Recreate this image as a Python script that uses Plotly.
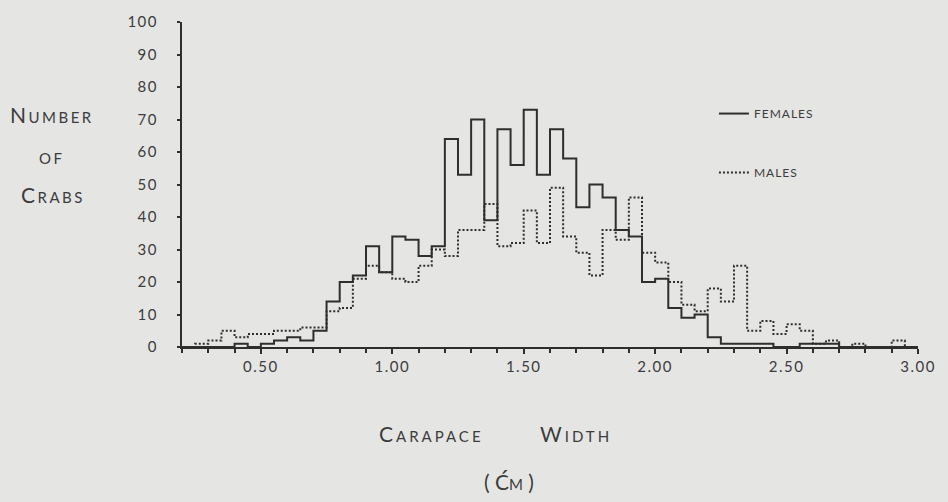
import plotly.graph_objects as go

# Bin left edges (cm), bin width 0.05
bin_left = [round(0.20 + 0.05 * i, 2) for i in range(56)]
females = [0, 0, 0, 0, 1, 0, 1, 2, 3, 2,
           5, 14, 20, 22, 31, 23, 34, 33, 28, 31,
           64, 53, 70, 39, 67, 56, 73, 53, 67, 58,
           43, 50, 46, 36, 34, 20, 21, 12, 9, 10,
           3, 1, 1, 1, 1, 0, 0, 1, 1, 1,
           0, 0, 0, 0, 0, 0]
males = [0, 1, 2, 5, 3, 4, 4, 5, 5, 6,
         6, 11, 12, 21, 25, 23, 21, 20, 25, 30,
         28, 36, 36, 44, 31, 32, 42, 32, 49, 34,
         29, 22, 36, 33, 46, 29, 26, 20, 13, 11,
         18, 14, 25, 5, 8, 4, 7, 5, 1, 2,
         0, 1, 0, 0, 2, 0]
bin_width = 0.05
x_tickvals = [0.5, 1.0, 1.5, 2.0, 2.5, 3.0]
x_ticktext = ["0.50", "1.00", "1.50", "2.00", "2.50", "3.00"]
y_tickvals = list(range(0, 101, 10))
y_ticktext = [str(v) for v in y_tickvals]

edges = bin_left + [round(bin_left[-1] + bin_width, 2)]

INK = "#2e2e2e"
TXT = "#3c3c3c"
BG = "#e5e5e3"
FONT = "Lato"


def spaced(s, ls=1.5):
    return f"<span style='letter-spacing:{ls}px'>{s}</span>"


fig = go.Figure()
fig.add_trace(go.Scatter(
    x=edges, y=females + [females[-1]], mode="lines", line_shape="hv",
    line=dict(color=INK, width=2), name=spaced("FEMALES", 1), legendgroup="f"))
fig.add_trace(go.Scatter(
    x=edges, y=males + [males[-1]], mode="lines", line_shape="hv",
    line=dict(color=INK, width=2, dash="2px,2px"), name=spaced("MALES", 1), legendgroup="m"))

W, H = 948, 502
L, R, T, B = 182, 23, 18, 155
pw, ph = W - L - R, H - T - B


def px(x):
    return (x - L) / pw


def py(y):
    return (H - B - y) / ph


big = 21
small = 15


def sc(first, rest, ls=2.5):
    return (f"<span style='letter-spacing:{ls}px'>{first}"
            f"<span style='font-size:{small}px'>{rest}</span></span>")


ann = [
    dict(text=sc("N", "UMBER"), x=px(51), y=py(112)),
    dict(text=sc("", "OF"), x=px(51), y=py(156)),
    dict(text=sc("C", "RABS"), x=px(52), y=py(193)),
    dict(text=sc("C", "ARAPACE", 3), x=px(434), y=py(435)),
    dict(text=sc("W", "IDTH", 3), x=px(580), y=py(435)),
    dict(text=f"( Ć<span style='font-size:{small}px'>M</span> )", x=px(512), y=py(483)),
]
annotations = []
for a in ann:
    a.update(xref="paper", yref="paper", xanchor="center", yanchor="middle",
             showarrow=False, font=dict(family=FONT, size=big, color=TXT))
    annotations.append(a)

fig.update_layout(
    width=W, height=H,
    margin=dict(l=L, r=R, t=T, b=B, pad=0),
    paper_bgcolor=BG, plot_bgcolor=BG,
    font=dict(family=FONT, size=15, color=TXT),
    showlegend=True,
    legend=dict(x=px(719), y=py(96), xanchor="left", yanchor="top",
                bgcolor="rgba(0,0,0,0)", tracegroupgap=40,
                font=dict(family=FONT, size=12, color=TXT),
                itemwidth=30),
    annotations=annotations,
)
fig.update_xaxes(
    range=[0.2, 3.0], showgrid=False, zeroline=False,
    showline=True, linecolor=INK, linewidth=2,
    tickvals=x_tickvals, ticktext=[spaced(t) for t in x_ticktext],
    ticks="outside", ticklen=5, tickwidth=1.5, tickcolor=INK,
    minor=dict(dtick=0.1, tick0=0.2, ticks="outside", ticklen=4, tickwidth=1.5, tickcolor=INK),
    ticklabelstandoff=0,
    tickfont=dict(family=FONT, size=15, color=TXT),
)
fig.update_yaxes(
    range=[0, 100], showgrid=False, zeroline=False,
    showline=True, linecolor=INK, linewidth=2,
    tickvals=y_tickvals, ticktext=[spaced(t) for t in y_ticktext],
    ticks="outside", ticklen=3, tickwidth=1.5, tickcolor=INK,
    ticklabelstandoff=16,
    tickfont=dict(family=FONT, size=15, color=TXT),
)

fig.write_html("out.html")
